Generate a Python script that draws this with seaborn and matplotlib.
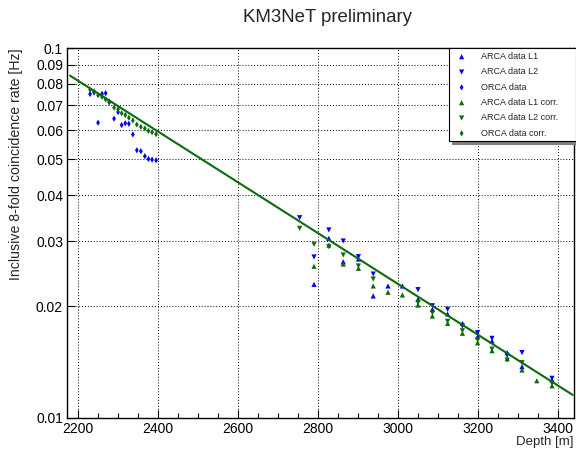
import matplotlib
matplotlib.use("Agg")
import matplotlib.pyplot as plt
import matplotlib.ticker as mticker
import seaborn as sns
import pandas as pd

# ORCA data (blue) and corrected (green)
orca_depth = [2231, 2241, 2251, 2261, 2270, 2279, 2291, 2301, 2310, 2319, 2328, 2338,
              2348, 2358, 2368, 2377, 2386, 2396]
orca_rate = [0.0751, 0.0758, 0.0628, 0.0752, 0.0755, 0.0713, 0.0644, 0.0671, 0.0619, 0.0626,
             0.0624, 0.0584, 0.0529, 0.0526, 0.0510, 0.0501, 0.0499, 0.0497]
orca_rate_corr = [0.0771, 0.0763, 0.0745, 0.0738, 0.0726, 0.0717, 0.0690, 0.0683, 0.0666,
                  0.0659, 0.0648, 0.0637, 0.0621, 0.0612, 0.0606, 0.0597, 0.0592, 0.0585]

# ARCA L1
arca_l1_depth = [2791, 2828, 2864, 2902, 2939, 2976, 3012, 3051, 3087, 3125, 3162, 3200,
                 3236, 3274, 3311, 3386]
arca_l1_rate = [0.02295, 0.03057, 0.02642, 0.02688, 0.02135, 0.02272, 0.02272, 0.02091,
                0.01964, 0.01908, 0.01800, 0.01656, 0.01612, 0.01500, 0.01374, 0.01265]
arca_l1c_depth = [2791, 2828, 2864, 2902, 2939, 2976, 3012, 3051, 3087, 3125, 3162, 3200,
                  3236, 3274, 3311, 3348, 3386]
arca_l1c_rate = [0.02568, 0.02931, 0.02605, 0.02536, 0.02272, 0.02185, 0.02148, 0.02017,
                 0.01884, 0.01800, 0.01692, 0.01595, 0.01518, 0.01444, 0.01346, 0.01259, 0.01220]

# ARCA L2
arca_l2_depth = [2755, 2791, 2828, 2864, 2902, 2939, 3051, 3087, 3125, 3162, 3200, 3236,
                 3274, 3311, 3386]
arca_l2_rate = [0.03475, 0.02721, 0.03220, 0.03006, 0.02726, 0.02447, 0.02220, 0.02008,
                0.01964, 0.01770, 0.01698, 0.01639, 0.01475, 0.01500, 0.01278]
arca_l2c_rate = [0.03253, 0.02944, 0.02901, 0.02755, 0.02573, 0.02372, 0.02047, 0.01920,
                 0.01823, 0.01719, 0.01623, 0.01533, 0.01432, 0.01409, 0.01239]

# exponential fit, end points of the drawn function
fit_depth = [2181, 3438]
fit_rate = [0.0842, 0.01152]

y_ticks = [0.01, 0.02, 0.03, 0.04, 0.05, 0.06, 0.07, 0.08, 0.09, 0.1]
y_tick_labels = ["0.01", "0.02", "0.03", "0.04", "0.05", "0.06", "0.07", "0.08", "0.09", "0.1"]

BLUE = "#0000ff"
GREEN = "#0b6b0b"

sns.set_style("white")
plt.rcParams['font.family'] = ['Liberation Sans', 'DejaVu Sans']

fig = plt.figure(figsize=(5.76, 4.49), dpi=100)
ax = fig.add_axes([0.1168, 0.0697, 0.8797, 0.8233])

series = [
    ("ARCA data L1", arca_l1_depth, arca_l1_rate, BLUE, "^", 14),
    ("ARCA data L2", arca_l2_depth, arca_l2_rate, BLUE, "v", 14),
    ("ORCA data", orca_depth, orca_rate, BLUE, "d", 10),
    ("ARCA data L1 corr.", arca_l1c_depth, arca_l1c_rate, GREEN, "^", 14),
    ("ARCA data L2 corr.", arca_l2_depth, arca_l2c_rate, GREEN, "v", 14),
    ("ORCA data corr.", orca_depth, orca_rate_corr, GREEN, "d", 10),
]

for label, depth, rate, color, marker, size in series:
    df = pd.DataFrame({'depth': depth, 'rate': rate})
    sns.scatterplot(data=df, x='depth', y='rate', ax=ax, color=color, marker=marker,
                    s=size, linewidth=0, edgecolor='none', label=label, zorder=3)

fit_df = pd.DataFrame({'depth': fit_depth, 'rate': fit_rate})
sns.lineplot(data=fit_df, x='depth', y='rate', ax=ax, color=GREEN, linewidth=1.5,
             zorder=4, legend=False)

ax.set_yscale('log')
ax.set_xlim(2174, 3441)
ax.set_ylim(0.01, 0.1)

ax.xaxis.set_major_locator(mticker.MultipleLocator(200))
ax.xaxis.set_minor_locator(mticker.MultipleLocator(50))
ax.yaxis.set_major_locator(mticker.FixedLocator(y_ticks))
ax.yaxis.set_major_formatter(mticker.FixedFormatter(y_tick_labels))
ax.yaxis.set_minor_locator(mticker.NullLocator())

ax.tick_params(which='both', direction='in', bottom=True, left=True, top=False, right=False,
               colors='black', labelsize=10, width=0.8)
ax.tick_params(which='major', length=6, pad=3)
ax.tick_params(which='minor', length=3.5)

ax.grid(True, which='major', color='black', linestyle=(0, (1, 2)), linewidth=0.7)
for spine in ax.spines.values():
    spine.set_color('black')
    spine.set_linewidth(1.0)

ax.set_xlabel("Depth [m]", fontsize=9.5, loc='right', labelpad=0)
ax.set_ylabel("Inclusive 8-fold coincidence rate [Hz]", fontsize=10.2, loc='top', labelpad=9)

fig.text(0.568, 0.96, "KM3NeT preliminary", fontsize=13.4, ha='center', va='center')

ax.legend(loc='upper left', bbox_to_anchor=(0.7795, 0.687, 0.2205, 0.205),
          bbox_transform=fig.transFigure, mode='expand', fontsize=6.5, frameon=True,
          fancybox=False, shadow={'color': '0.5', 'alpha': 1.0}, edgecolor='black',
          framealpha=1.0, labelspacing=0.7, borderpad=0.4, handletextpad=1.2,
          handlelength=2.0, borderaxespad=0)
ax.get_legend().get_frame().set_linewidth(0.8)

fig.savefig("out.png", dpi=100)
